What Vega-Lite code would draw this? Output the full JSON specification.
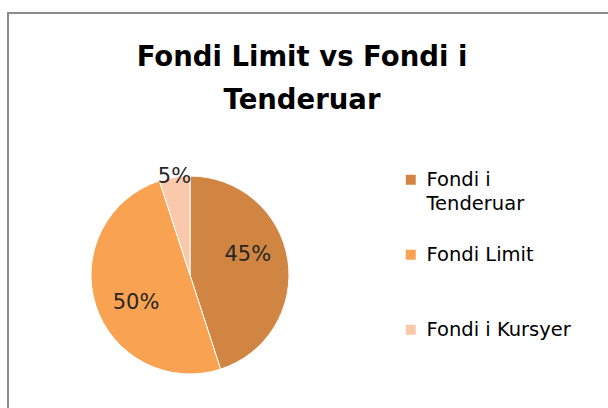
{
  "$schema": "https://vega.github.io/schema/vega-lite/v6.json",
  "width": 620,
  "height": 420,
  "autosize": {"type": "none"},
  "padding": {"left": 8, "top": 13, "right": 0, "bottom": 0},
  "background": "white",
  "config": {
    "view": {"stroke": "#8c8c8c", "strokeWidth": 2},
    "font": "DejaVu Sans",
    "style": {"guide-label": {"lineHeight": 24}}
  },
  "title": {
    "text": ["Fondi Limit vs Fondi i", "Tenderuar"],
    "font": "DejaVu Sans",
    "fontSize": 27.5,
    "fontWeight": "bold",
    "color": "#000000",
    "anchor": "middle",
    "frame": "group",
    "orient": "top",
    "baseline": "top",
    "lineHeight": 43,
    "dx": -16,
    "offset": -101
  },
  "data": {
    "values": [
      {"category": "Fondi i Tenderuar", "share": 0.45},
      {"category": "Fondi Limit", "share": 0.50},
      {"category": "Fondi i Kursyer", "share": 0.05}
    ]
  },
  "transform": [
    {"calculate": "indexof(['Fondi i Tenderuar','Fondi Limit','Fondi i Kursyer'], datum.category)", "as": "ord"}
  ],
  "encoding": {
    "theta": {"field": "share", "type": "quantitative", "stack": true},
    "order": {"field": "ord", "type": "quantitative"},
    "x": {"value": 182},
    "y": {"value": 262}
  },
  "layer": [
    {
      "mark": {"type": "arc", "outerRadius": 99, "stroke": "#ffffff", "strokeWidth": 1},
      "encoding": {
        "color": {
          "field": "category",
          "type": "nominal",
          "sort": ["Fondi i Tenderuar", "Fondi Limit", "Fondi i Kursyer"],
          "scale": {
            "domain": ["Fondi i Tenderuar", "Fondi Limit", "Fondi i Kursyer"],
            "range": ["#D08642", "#F9A352", "#FAC8AA"]
          },
          "legend": {
            "title": null,
            "orient": "none",
            "legendX": 393,
            "legendY": 157,
            "symbolType": "square",
            "symbolSize": 100,
            "symbolStrokeWidth": 0,
            "labelFont": "DejaVu Sans",
            "labelFontSize": 19.5,
            "labelColor": "#000000",
            "labelOffset": 6,
            "labelLimit": 300,
            "rowPadding": 30,
            "labelExpr": "datum.label == 'Fondi i Tenderuar' ? ['Fondi i', 'Tenderuar'] : [datum.label, ' ']",
            "encode": {"labels": {"update": {"lineHeight": {"value": 24}}}}
          }
        }
      }
    },
    {
      "mark": {"type": "text", "font": "DejaVu Sans", "fontSize": 21, "color": "#262626", "baseline": "middle", "align": "center", "radius": 61, "thetaOffset": -0.17},
      "encoding": {
        "text": {"condition": {"test": "datum.share < 0.1", "value": ""}, "field": "share", "type": "quantitative", "format": ".0%"}
      }
    },
    {
      "mark": {"type": "text", "font": "DejaVu Sans", "fontSize": 21, "color": "#262626", "baseline": "middle", "align": "center", "radius": 99},
      "encoding": {
        "text": {"condition": {"test": "datum.share >= 0.1", "value": ""}, "field": "share", "type": "quantitative", "format": ".0%"}
      }
    }
  ]
}
